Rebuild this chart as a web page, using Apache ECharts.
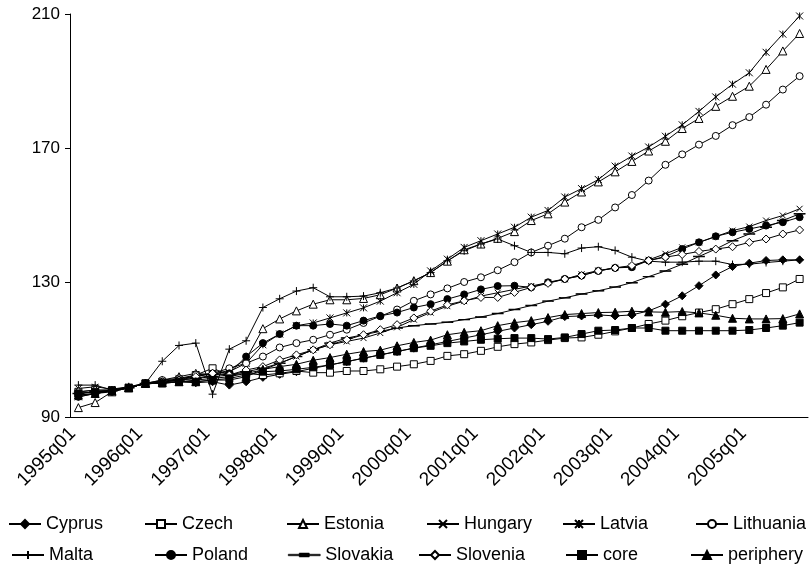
<!DOCTYPE html>
<html><head><meta charset="utf-8">
<script src="https://cdn.jsdelivr.net/npm/echarts@6/dist/echarts.min.js"></script>
<style>html,body{margin:0;padding:0;background:#fff}#c{width:811px;height:566px}</style>
</head><body><div id="c"></div>
<script>
const categories = ['1995q01','1995q02','1995q03','1995q04','1996q01','1996q02','1996q03','1996q04','1997q01','1997q02','1997q03','1997q04','1998q01','1998q02','1998q03','1998q04','1999q01','1999q02','1999q03','1999q04','2000q01','2000q02','2000q03','2000q04','2001q01','2001q02','2001q03','2001q04','2002q01','2002q02','2002q03','2002q04','2003q01','2003q02','2003q03','2003q04','2004q01','2004q02','2004q03','2004q04','2005q01','2005q02','2005q03','2005q04'];
const yTicks = [90, 130, 170, 210];
const cyprus = [97, 97.5, 98, 98.7, 100, 100.3, 100.5, 100.2, 100.5, 99.5, 100.5, 101.8, 102.7, 103.5, 104.5, 105.5, 106.5, 107.5, 108.5, 109.5, 110.5, 111.5, 112.5, 113.5, 114.5, 115.5, 116.5, 117.5, 118.5, 119.9, 120.1, 120.4, 120.1, 120.4, 121.6, 123.6, 126.1, 129.1, 132.3, 134.8, 135.8, 136.6, 136.8, 136.8];
const czech = [97.5, 98, 98, 98.7, 100, 100.5, 101, 102.5, 104.5, 102.5, 103, 102.5, 103, 103.7, 103.2, 103.2, 103.7, 103.7, 104.2, 105, 105.7, 106.7, 108.2, 108.7, 109.7, 110.9, 111.7, 112.2, 112.9, 113.5, 113.7, 114.5, 115.5, 116.5, 117.7, 118.7, 120, 121.1, 122.1, 123.6, 125.1, 126.9, 128.6, 131.1];
const estonia = [92.8, 94.3, 97.5, 98.7, 100, 101, 102, 103, 102.5, 104, 107.2, 116.3, 119.2, 121.6, 123.6, 124.9, 124.9, 125.3, 126.4, 128.4, 130.6, 133, 136.4, 139.8, 141.5, 143.2, 145.2, 148.5, 150.5, 154, 157, 160, 163, 166.1, 169.2, 172.1, 175.9, 178.9, 182.5, 185.5, 188.5, 193.5, 199, 204.2];
const hungary = [98.5, 99, 98.3, 99, 100, 100, 100.5, 101, 101.5, 102, 103, 104, 106, 108, 110, 111.5, 112.5, 113.5, 115, 116.7, 119, 121.1, 123, 124.5, 126, 127, 128, 129, 130, 131, 132.5, 133.6, 134.4, 134.8, 136.8, 138.6, 140.5, 142, 143.7, 145.5, 146.7, 148.5, 150, 152];
const latvia = [96, 97, 97.8, 98.7, 100, 100.5, 101.5, 102, 103, 103.5, 106, 111.5, 114.7, 117.2, 118, 119.5, 121, 122.5, 124.5, 127, 129.5, 133.5, 137, 140.5, 142.5, 144.5, 146.5, 149.5, 151.5, 155.5, 158, 160.7, 164.7, 167.7, 170.4, 173.6, 177, 181, 185.3, 189.1, 192.5, 198.6, 204, 209.4];
const lithuania = [96.5, 97, 97.8, 98.7, 100, 101, 101.5, 102.5, 103, 104.5, 106, 108, 110.7, 112, 113, 114.5, 116, 118, 120, 122, 124.6, 126.5, 128.3, 130.2, 131.6, 133.7, 136.1, 139, 141, 143.1, 146.5, 148.7, 152.4, 156.1, 160.4, 165.1, 168.2, 171.1, 173.7, 176.9, 179.3, 183, 187.5, 191.5];
const malta = [99.5, 99.5, 98, 99, 100, 106.6, 111.3, 112, 96.8, 110.2, 112.7, 122.6, 125.2, 127.5, 128.5, 125.8, 125.8, 126, 127, 128.4, 130.5, 133, 136.5, 139.5, 141.5, 143, 141, 139, 139, 138.6, 140.3, 140.7, 139.6, 137.6, 136.4, 136.1, 136.1, 136.4, 136.4, 135.4, 135.5, 136, 136.4, 136.8];
const poland = [96, 97, 97.5, 98.7, 100, 100.5, 101, 101.5, 102.5, 103, 108, 112, 114.7, 117.2, 117.2, 117.7, 117.2, 118.7, 120.1, 121.1, 122.6, 123.6, 125.1, 126.5, 128, 129, 129.1, 128.6, 130.1, 131.1, 132.1, 133.5, 134.4, 134.6, 136.6, 137.8, 140, 142, 143.8, 145, 146, 147, 148, 149.5];
const slovakia = [97, 97.5, 97.8, 98.7, 100, 100.5, 101, 101.5, 102, 102.5, 103.5, 104.5, 106, 108, 110, 112, 113.5, 114.5, 115.5, 116.5, 117.2, 117.7, 118.2, 119, 119.8, 120.8, 122, 123.2, 124.5, 125.5, 126.6, 127.6, 128.7, 130, 131.8, 133.5, 135.5, 137.8, 140, 142.5, 144.5, 146.5, 148.5, 150.5];
const slovenia = [97.5, 98, 98, 98.7, 100, 100.5, 101, 102, 103, 102.5, 104, 105, 107, 108.5, 110, 111.5, 113, 114.5, 116, 117.5, 119.5, 121.5, 123.4, 124.6, 125.6, 125.6, 127.1, 128.6, 129.8, 131.1, 132.1, 133.5, 134.4, 135.1, 136.6, 137.6, 138.4, 139.3, 140, 140.7, 142, 143, 144.5, 145.7];
const core = [97, 97.5, 97.8, 98.7, 100, 100, 100.5, 100.5, 101, 101.5, 102.5, 103.5, 103.7, 104.2, 104.8, 105.5, 106.5, 107.5, 108.5, 109.5, 110.5, 111.2, 112, 112.5, 113, 113.3, 113.5, 113.5, 113.2, 113.7, 114.7, 115.7, 115.9, 116.5, 116.5, 115.7, 115.7, 115.7, 115.7, 115.7, 115.9, 116.5, 117.2, 118.1];
const periphery = [96.5, 97, 97.8, 98.7, 100, 100.2, 100.5, 100.5, 101, 101, 102, 104.2, 105, 105.7, 106.9, 107.7, 108.7, 109.5, 109.9, 111.2, 112.2, 112.9, 114.5, 115.2, 115.7, 117.2, 118.1, 118.7, 119.6, 120.5, 120.8, 121.1, 121.2, 121.5, 121.3, 121.2, 121.4, 121, 120.3, 119.4, 119.2, 119.2, 119.3, 120.7];

const FONT = '"Liberation Sans", Arial, sans-serif';
const X_PATH = 'path://M0,0L10,10M10,0L0,10';
const STAR_PATH = 'path://M0,0L10,10M10,0L0,10M5,0L5,10';
const PLUS_PATH = 'path://M5,0L5,10M0,5L10,5';
const DASH_PATH = 'path://M0,0L10,0L10,3L0,3Z';
const DASH_LEGEND = 'path://M0,4.2L32,4.2L32,5.8L0,5.8Z M11,3L21,3L21,7L11,7Z';

const defs = [
  {name:'Cyprus', data:cyprus, symbol:'diamond', size:8, fill:'#000', legend:[3,510]},
  {name:'Czech', data:czech, symbol:'rect', size:7, fill:'#fff', legend:[139,510]},
  {name:'Estonia', data:estonia, symbol:'triangle', size:8, fill:'#fff', legend:[281,510]},
  {name:'Hungary', data:hungary, symbol:X_PATH, size:6, fill:'#000', legend:[421,510]},
  {name:'Latvia', data:latvia, symbol:STAR_PATH, size:7, fill:'#000', legend:[557,510]},
  {name:'Lithuania', data:lithuania, symbol:'circle', size:7, fill:'#fff', legend:[690,510]},
  {name:'Malta', data:malta, symbol:PLUS_PATH, size:8, fill:'#000', legend:[6,541]},
  {name:'Poland', data:poland, symbol:'circle', size:7, fill:'#000', legend:[149,541]},
  {name:'Slovakia', data:slovakia, symbol:DASH_PATH, size:[10,3], fill:'#000', legend:[283,541], keep:true, icon:DASH_LEGEND},
  {name:'Slovenia', data:slovenia, symbol:'diamond', size:8, fill:'#fff', legend:[413,541]},
  {name:'core', data:core, symbol:'rect', size:7, fill:'#000', legend:[560,541]},
  {name:'periphery', data:periphery, symbol:'triangle', size:8, fill:'#000', legend:[685,541]}
];

const chart = echarts.init(document.getElementById('c'), null, {renderer:'canvas'});
chart.setOption({
  animation: false,
  backgroundColor: '#fff',
  grid: {left: 70, right: 3, top: 14, bottom: 149},
  xAxis: {
    type: 'category', data: categories, boundaryGap: true,
    axisLine: {lineStyle: {color: '#000', width: 1}},
    axisTick: {interval: 3, length: 5, lineStyle: {color: '#000'}},
    axisLabel: {interval: 3, rotate: 45, margin: 8, padding: [0, 8, 0, 0], color: '#000', fontSize: 19, fontFamily: FONT}
  },
  yAxis: {
    type: 'value', min: yTicks[0], max: yTicks[yTicks.length-1], interval: yTicks[1]-yTicks[0],
    axisLine: {show: true, lineStyle: {color: '#000', width: 1}},
    axisTick: {show: true, length: 5, lineStyle: {color: '#000'}},
    splitLine: {show: false},
    axisLabel: {color: '#000', fontSize: 17, fontFamily: FONT, margin: 10}
  },
  legend: defs.map(d => ({
    data: [d.icon ? {name: d.name, icon: d.icon, itemStyle: {color: '#000', borderColor: '#000', borderWidth: 0.5, opacity: 1}} : d.name],
    left: d.legend[0], top: d.legend[1], itemWidth: 32, itemHeight: 10, itemGap: 0,
    textStyle: {fontSize: 18, fontFamily: FONT, color: '#000'}
  })),
  series: defs.map(d => ({
    name: d.name, type: 'line', data: d.data,
    symbol: d.symbol, symbolSize: d.size, symbolKeepAspect: !!d.keep, showSymbol: true, showAllSymbol: true,
    lineStyle: {color: '#000', width: 1},
    itemStyle: {color: d.fill, borderColor: '#000', borderWidth: 1},
    emphasis: {disabled: true}
  }))
});
</script>
</body></html>
